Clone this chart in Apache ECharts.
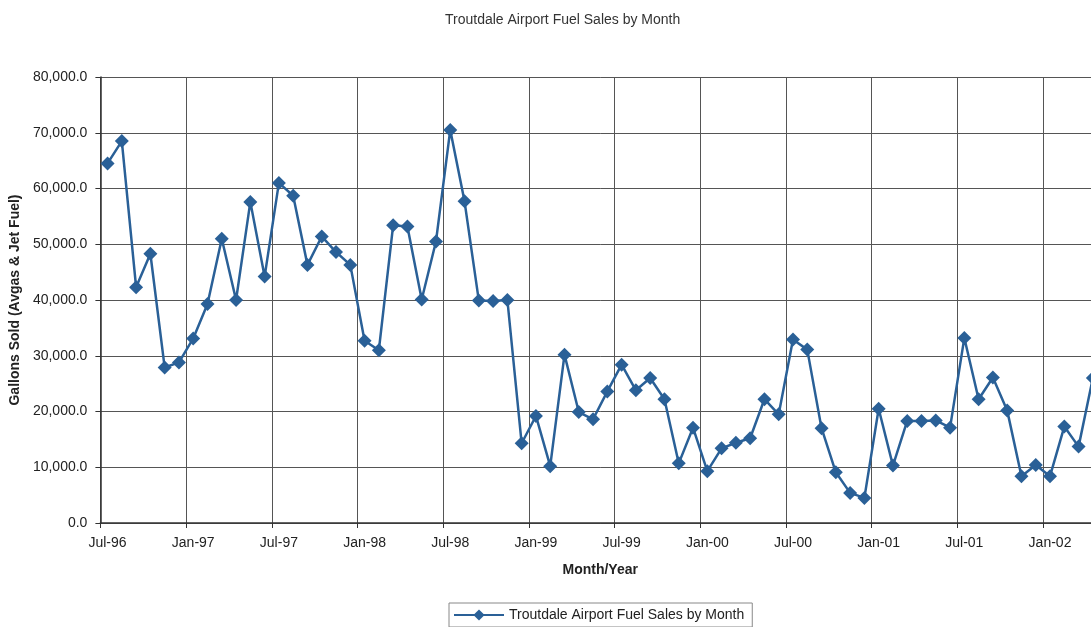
<!DOCTYPE html>
<html>
<head>
<meta charset="utf-8">
<script src="https://cdn.jsdelivr.net/npm/echarts@6/dist/echarts.min.js"></script>
<style>
html,body{margin:0;padding:0;background:#fff;overflow:hidden;width:1091px;height:627px;}
#chart{width:1100px;height:627px;}
</style>
</head>
<body>
<div id="chart"></div>
<script>
var monthNames = ['Jan','Feb','Mar','Apr','May','Jun','Jul','Aug','Sep','Oct','Nov','Dec'];
var startYear = 1996, startMonth = 6, monthCount = 70;
var categories = [];
for (var i = 0; i < monthCount; i++) {
  var m = (startMonth + i) % 12;
  var y = startYear + Math.floor((startMonth + i) / 12);
  categories.push(monthNames[m] + '-' + String(y % 100).padStart(2, '0'));
}
var fuelSales = [
  64500, 68500, 42300, 48300, 27900, 28800,
  33100, 39300, 51000, 40000, 57600, 44200, 61000, 58700, 46300, 51400, 48600, 46300,
  32700, 31000, 53400, 53200, 40100, 50500, 70500, 57700, 39900, 39800, 40000, 14300,
  19200, 10200, 30200, 19900, 18600, 23600, 28400, 23800, 26000, 22200, 10700, 17100,
  9300, 13400, 14400, 15200, 22200, 19500, 32900, 31100, 17000, 9100, 5400, 4500,
  20500, 10300, 18300, 18300, 18400, 17100, 33200, 22200, 26100, 20200, 8400, 10400,
  8400, 17300, 13700, 26000
];
var seriesName = 'Troutdale Airport Fuel Sales by Month';
var titleText = 'Troutdale Airport Fuel Sales by Month';
var yAxisName = 'Gallons Sold (Avgas & Jet Fuel)';
var xAxisName = 'Month/Year';

var font = 'Liberation Sans, Arial, sans-serif';
var chart = echarts.init(document.getElementById('chart'));
chart.setOption({
  animation: false,
  backgroundColor: '#fff',
  title: {
    text: titleText,
    left: 440, top: 8,
    textStyle: {fontFamily: font, fontSize: 14, fontWeight: 'normal', color: '#333'}
  },
  legend: {
    data: [seriesName],
    left: 449, top: 603,
    padding: [5, 8, 5, 4],
    borderColor: '#888', borderWidth: 1,
    itemWidth: 50, itemHeight: 14,
    textStyle: {fontFamily: font, fontSize: 14, color: '#222'}
  },
  grid: {left: 100, right: 0, top: 77, bottom: 104, containLabel: false},
  xAxis: {
    type: 'category',
    data: categories,
    boundaryGap: true,
    name: xAxisName,
    nameLocation: 'middle',
    nameGap: 40,
    nameTextStyle: {fontFamily: font, fontSize: 14, fontWeight: 'bold', color: '#222'},
    axisLine: {lineStyle: {color: '#333', width: 1.5}},
    axisTick: {show: true, interval: 5, length: 5, lineStyle: {color: '#333'}},
    axisLabel: {interval: 5, margin: 13, fontFamily: font, fontSize: 14, color: '#222'},
    splitLine: {show: true, interval: 5, lineStyle: {color: '#555', width: 1}}
  },
  yAxis: {
    type: 'value',
    min: 0, max: 80000, interval: 10000,
    name: yAxisName,
    nameLocation: 'middle',
    nameGap: 75,
    nameTextStyle: {fontFamily: font, fontSize: 14, fontWeight: 'bold', color: '#222'},
    axisLine: {show: true, lineStyle: {color: '#333', width: 1.5}},
    axisTick: {show: true, length: 5, lineStyle: {color: '#333'}},
    axisLabel: {
      margin: 13, fontFamily: font, fontSize: 14, color: '#222',
      formatter: function (v) {
        return v.toLocaleString('en-US', {minimumFractionDigits: 1, maximumFractionDigits: 1});
      }
    },
    splitLine: {show: true, lineStyle: {color: '#555', width: 1}}
  },
  series: [{
    name: seriesName,
    type: 'line',
    data: fuelSales,
    symbol: 'diamond',
    symbolSize: 14,
    showAllSymbol: true,
    lineStyle: {color: '#2a6097', width: 2.5},
    itemStyle: {color: '#2a6097', borderWidth: 0}
  }]
});
</script>
</body>
</html>
